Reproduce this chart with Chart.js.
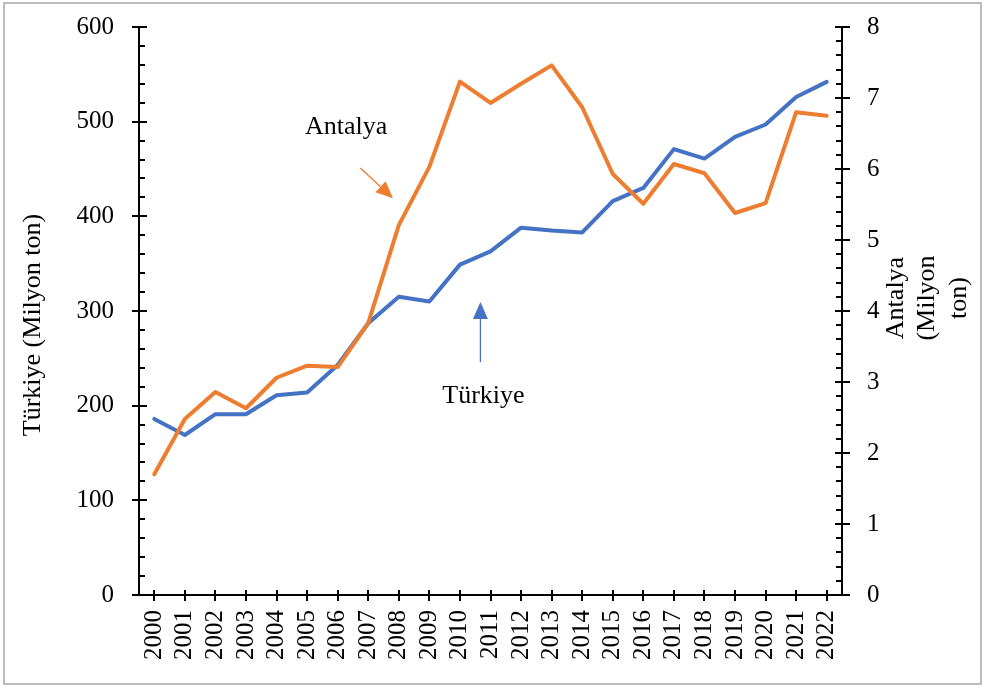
<!DOCTYPE html>
<html>
<head>
<meta charset="utf-8">
<script src="https://cdn.jsdelivr.net/npm/chart.js"></script>
<style>
  body { margin: 0; background: #fff; }
  #wrap { width: 985px; height: 688px; }
</style>
</head>
<body>
<div id="wrap"><canvas id="myChart" width="985" height="688"></canvas></div>
<script>
let years = ["2000","2001","2002","2003","2004","2005","2006","2007","2008","2009","2010",
  "2011","2012","2013","2014","2015","2016","2017","2018","2019","2020","2021","2022"];
let turkiye = [186, 169, 191, 191, 211, 214, 243, 287, 315, 310, 349, 363, 388, 385, 383,
  416, 430, 471, 461, 484, 497, 526, 542];
let antalya = [1.70, 2.48, 2.86, 2.63, 3.06, 3.23, 3.21, 3.83, 5.21, 6.03, 7.23, 6.93, 7.20,
  7.46, 6.87, 5.93, 5.51, 6.07, 5.94, 5.38, 5.52, 6.80, 6.75];

let leftTitle = "Türkiye (Milyon ton)";
let rightTitle = ["Antalya", "(Milyon", "ton)"];

// annotation anchors in data units (x = year index, y = left axis value)
let antalyaNote = { text: "Antalya", x: 6.28, y: 487, from: [6.74, 451], to: [7.81, 419] };
let turkiyeNote = { text: "Türkiye", x: 10.77, y: 203, from: [10.67, 246], to: [10.67, 309.5] };

let blue = "#4472C4";
let orange = "#ED7D31";
let serif = "'Liberation Serif', 'Times New Roman', serif";

function drawArrow(ctx, x1, y1, x2, y2, color){
    let ang = Math.atan2(y2 - y1, x2 - x1);
    let len = 17, half = 7.5;
    let bx = x2 - len * Math.cos(ang), by = y2 - len * Math.sin(ang);
    ctx.strokeStyle = color;
    ctx.lineWidth = 1.3;
    ctx.beginPath();
    ctx.moveTo(x1, y1);
    ctx.lineTo(bx, by);
    ctx.stroke();
    ctx.fillStyle = color;
    ctx.beginPath();
    ctx.moveTo(x2, y2);
    ctx.lineTo(bx + half * Math.sin(ang), by - half * Math.cos(ang));
    ctx.lineTo(bx - half * Math.sin(ang), by + half * Math.cos(ang));
    ctx.closePath();
    ctx.fill();
}

let extras = {
    id: 'extras',
    beforeDraw(chart){
        let ctx = chart.ctx;
        ctx.save();
        ctx.fillStyle = "#fff";
        ctx.fillRect(0, 0, chart.width, chart.height);
        ctx.strokeStyle = "#a6a6a6";
        ctx.lineWidth = 1.5;
        ctx.strokeRect(4, 3, 977, 681);
        ctx.restore();
    },
    afterDraw(chart){
        let ctx = chart.ctx;
        let xs = chart.scales.x, ys = chart.scales.y, ys2 = chart.scales.y1;
        let ax = ys.right, bx = ys2.left, ay = xs.top;
        ctx.save();
        ctx.strokeStyle = "#000";
        ctx.lineWidth = 2;
        ctx.beginPath();
        // left axis ticks, major every 100, minor every 20
        for (let v = 0; v <= 600; v += 20) {
            let py = Math.round(ys.getPixelForValue(v));
            if (v % 100 == 0) { ctx.moveTo(ax - 7, py); ctx.lineTo(ax + 8, py); }
            else { ctx.moveTo(ax, py); ctx.lineTo(ax + 6, py); }
        }
        // right axis ticks, major every 1, minor every 0.2
        for (let k = 0; k <= 40; k++) {
            let py = Math.round(ys2.getPixelForValue(k * 0.2));
            if (k % 5 == 0) { ctx.moveTo(bx - 7, py); ctx.lineTo(bx + 8, py); }
            else { ctx.moveTo(bx - 6, py); ctx.lineTo(bx, py); }
        }
        for (let i = 0; i < years.length; i++) {
            let px = Math.round(xs.getPixelForValue(i));
            ctx.moveTo(px, ay - 5); ctx.lineTo(px, ay + 6);
        }
        ctx.stroke();

        // axis titles
        ctx.fillStyle = "#000";
        ctx.font = "26px " + serif;
        ctx.textAlign = "center";
        ctx.textBaseline = "middle";
        ctx.save();
        ctx.translate(33, (ys.top + ys.bottom) / 2 + 14);
        ctx.rotate(-Math.PI / 2);
        ctx.fillText(leftTitle, 0, 0);
        ctx.restore();
        for (let i = 0; i < rightTitle.length; i++) {
            ctx.save();
            ctx.translate(896 + i * 31.5, (ys.top + ys.bottom) / 2 - 13);
            ctx.rotate(-Math.PI / 2);
            ctx.fillText(rightTitle[i], 0, 0);
            ctx.restore();
        }

        // annotations
        ctx.textBaseline = "alphabetic";
        for (const n of [antalyaNote, turkiyeNote]) {
            ctx.fillStyle = "#000";
            ctx.fillText(n.text, xs.getPixelForValue(n.x), ys.getPixelForValue(n.y));
        }
        drawArrow(ctx, xs.getPixelForValue(antalyaNote.from[0]), ys.getPixelForValue(antalyaNote.from[1]),
            xs.getPixelForValue(antalyaNote.to[0]), ys.getPixelForValue(antalyaNote.to[1]), orange);
        drawArrow(ctx, xs.getPixelForValue(turkiyeNote.from[0]), ys.getPixelForValue(turkiyeNote.from[1]),
            xs.getPixelForValue(turkiyeNote.to[0]), ys.getPixelForValue(turkiyeNote.to[1]), blue);
        ctx.restore();
    }
};

let tickFont = { family: serif, size: 25 };

function fitY(width){
    return function(scale){
        scale.width = width;
        scale.paddingTop = 0;
        scale.paddingBottom = 0;
    };
}

new Chart("myChart", {
    type: "line",
    data: {
        labels: years,
        datasets: [{
            label: "Türkiye",
            data: turkiye,
            borderColor: blue,
            borderWidth: 4,
            pointRadius: 0,
            yAxisID: "y",
            order: 1,
            borderJoinStyle: "round",
            borderCapStyle: "round"
        }, {
            label: "Antalya",
            data: antalya,
            borderColor: orange,
            borderWidth: 4,
            pointRadius: 0,
            yAxisID: "y1",
            order: 0,
            borderJoinStyle: "round",
            borderCapStyle: "round"
        }]
    },
    options: {
        responsive: false,
        animation: false,
        layout: { padding: { top: 27, left: 0, right: 0, bottom: 0 } },
        plugins: {
            legend: { display: false },
            tooltip: { enabled: false }
        },
        scales: {
            x: {
                offset: true,
                grid: { display: true, drawOnChartArea: false, drawTicks: false, offset: false },
                border: { display: true, color: "#000", width: 2 },
                ticks: { color: "#000", font: tickFont, minRotation: 90, maxRotation: 90, padding: 15, autoSkip: false },
                afterFit(scale){ scale.height = 93; }
            },
            y: {
                position: "left",
                min: 0, max: 600,
                grid: { display: true, drawOnChartArea: false, drawTicks: false },
                border: { display: true, color: "#000", width: 2 },
                ticks: { color: "#000", font: tickFont, stepSize: 100, padding: 25 },
                afterFit: fitY(139)
            },
            y1: {
                position: "right",
                min: 0, max: 8,
                grid: { display: true, drawOnChartArea: false, drawTicks: false },
                border: { display: true, color: "#000", width: 2 },
                ticks: { color: "#000", font: tickFont, stepSize: 1, padding: 25 },
                afterFit: fitY(143)
            }
        }
    },
    plugins: [extras]
});
</script>
</body>
</html>
